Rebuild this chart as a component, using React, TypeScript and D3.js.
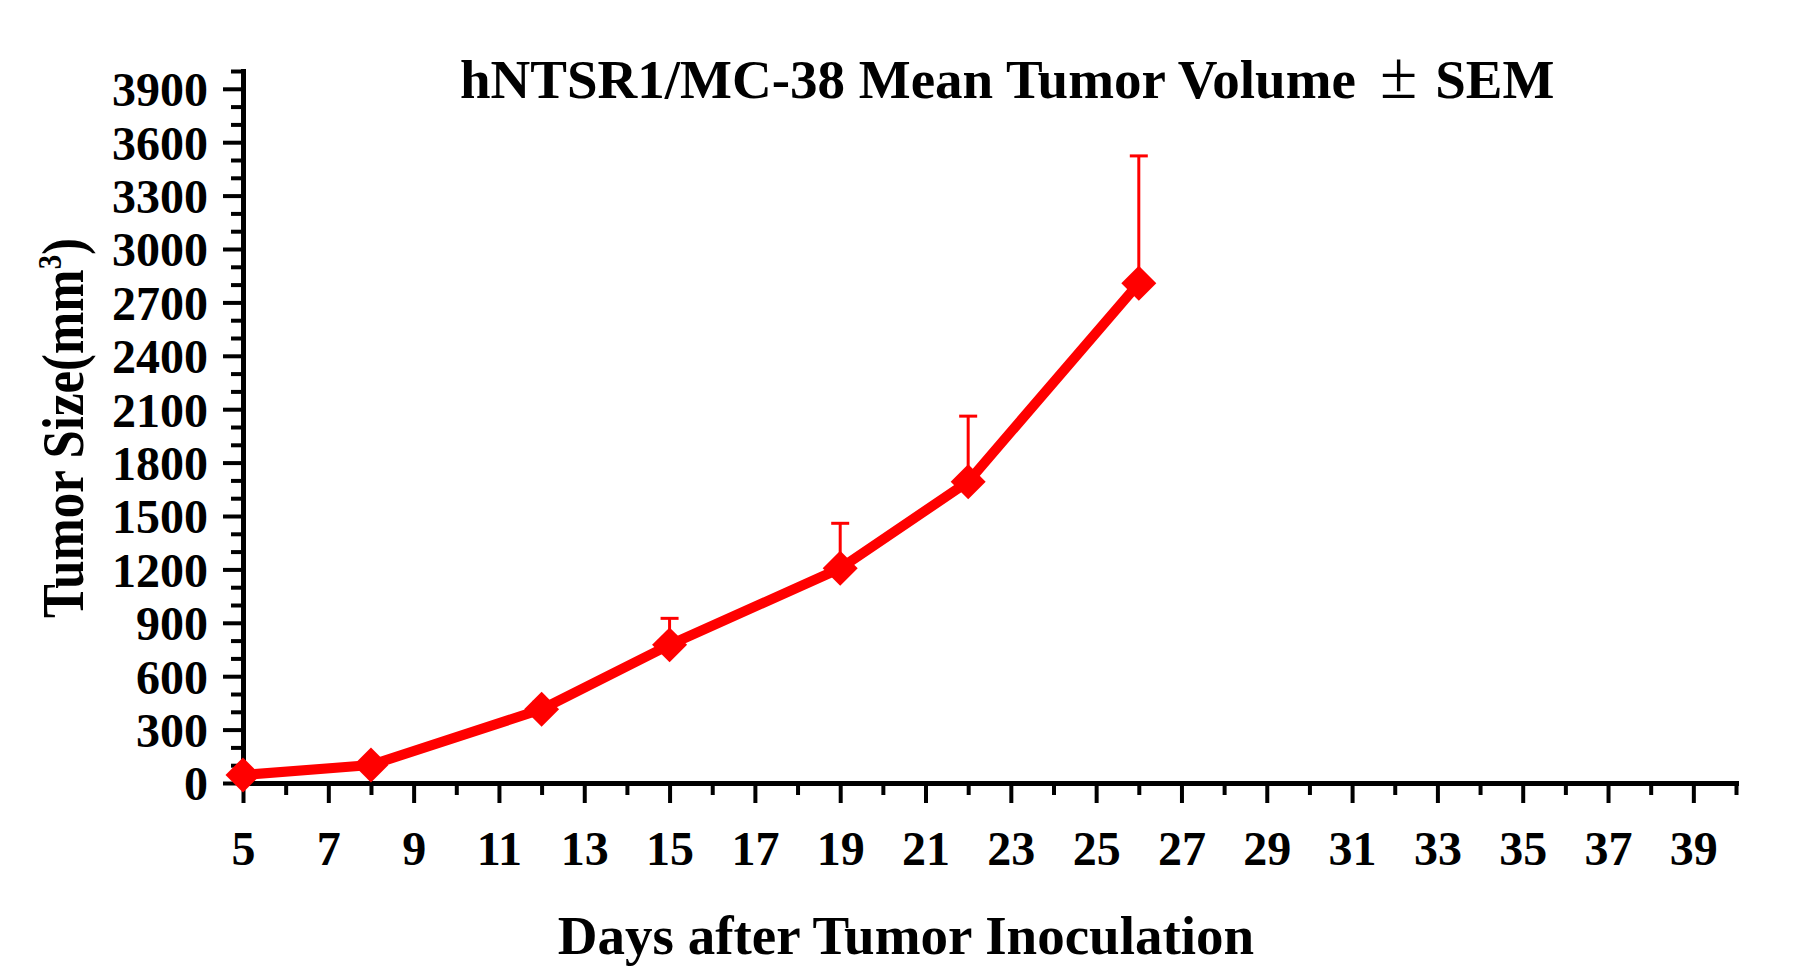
import * as d3 from "d3";
import { useEffect, useRef } from "react";

// tumor growth, hNTSR1/MC-38 (days after inoculation)
const days = [5, 8, 12, 15, 19, 22, 26];
const meanVolume = [45, 101, 414, 776, 1206, 1693, 2808];
const semVolume = [5, 15, 40, 149, 253, 368, 715];

const yMajorTicks = d3.range(0, 3901, 300);
const yMinorTicks = d3.range(0, 4001, 100).filter((v) => v % 300 !== 0);
const xMajorTicks = d3.range(5, 40, 2);
const xMinorTicks = d3.range(6, 41, 2);

const TITLE_MAIN = "hNTSR1/MC-38 Mean Tumor Volume";
const TITLE_PM = "±";
const TITLE_END = "SEM";
const X_LABEL = "Days after Tumor Inoculation";

const W = 1802;
const H = 978;
const FONT = "'Liberation Serif', 'Times New Roman', serif";
const RED = "#ff0000";

export default function App() {
  const svgRef = useRef<SVGSVGElement>(null);

  useEffect(() => {
    if (!svgRef.current) return;
    const svg = d3.select(svgRef.current);
    svg.selectAll("*").remove();

    const left = 243;
    const right = 1736;
    const top = 71;
    const bottom = 783;

    const x = d3.scaleLinear().domain([5, 40]).range([left, right]);
    const y = d3.scaleLinear().domain([0, 4000]).range([bottom, top]);

    // minor ticks first, majors + domain on top
    const yMinor = svg
      .append("g")
      .attr("transform", `translate(${left},0)`)
      .call(
        d3.axisLeft(y).tickValues(yMinorTicks).tickSize(12).tickSizeOuter(0).tickFormat(() => ""),
      );
    yMinor.select(".domain").remove();
    yMinor.selectAll("line").attr("stroke", "#000").attr("stroke-width", 4);

    const xMinor = svg
      .append("g")
      .attr("transform", `translate(0,${bottom})`)
      .call(
        d3.axisBottom(x).tickValues(xMinorTicks).tickSize(12).tickSizeOuter(0).tickFormat(() => ""),
      );
    xMinor.select(".domain").remove();
    xMinor.selectAll("line").attr("stroke", "#000").attr("stroke-width", 4);

    const yAxis = svg
      .append("g")
      .attr("transform", `translate(${left},0)`)
      .call(
        d3
          .axisLeft(y)
          .tickValues(yMajorTicks)
          .tickSize(20)
          .tickSizeOuter(0)
          .tickPadding(15)
          .tickFormat(d3.format("d")),
      );
    yAxis.select(".domain").attr("stroke-width", 5).attr("stroke-linecap", "square");
    yAxis.selectAll("line").attr("stroke", "#000").attr("stroke-width", 4);
    yAxis
      .selectAll("text")
      .attr("dy", "0.35em")
      .attr("font-family", FONT)
      .attr("font-weight", "bold")
      .attr("font-size", 48)
      .attr("fill", "#000");

    const xAxis = svg
      .append("g")
      .attr("transform", `translate(0,${bottom})`)
      .call(
        d3
          .axisBottom(x)
          .tickValues(xMajorTicks)
          .tickSize(20)
          .tickSizeOuter(0)
          .tickPadding(28)
          .tickFormat(d3.format("d")),
      );
    xAxis.select(".domain").attr("stroke-width", 5).attr("stroke-linecap", "square");
    xAxis.selectAll("line").attr("stroke", "#000").attr("stroke-width", 4);
    xAxis
      .selectAll("text")
      .attr("font-family", FONT)
      .attr("font-weight", "bold")
      .attr("font-size", 48)
      .attr("fill", "#000");

    const pts = days.map((d, i) => ({ d, m: meanVolume[i], e: semVolume[i] }));

    // upper error bars
    const err = svg.append("g").attr("stroke", RED).attr("stroke-width", 3);
    err
      .selectAll("line.bar")
      .data(pts)
      .enter()
      .append("line")
      .attr("x1", (p) => x(p.d))
      .attr("x2", (p) => x(p.d))
      .attr("y1", (p) => y(p.m))
      .attr("y2", (p) => y(p.m + p.e));
    err
      .selectAll("line.cap")
      .data(pts)
      .enter()
      .append("line")
      .attr("x1", (p) => x(p.d) - 9)
      .attr("x2", (p) => x(p.d) + 9)
      .attr("y1", (p) => y(p.m + p.e))
      .attr("y2", (p) => y(p.m + p.e));

    const line = d3
      .line<{ d: number; m: number }>()
      .x((p) => x(p.d))
      .y((p) => y(p.m));
    svg
      .append("path")
      .datum(pts)
      .attr("d", line)
      .attr("fill", "none")
      .attr("stroke", RED)
      .attr("stroke-width", 10)
      .attr("stroke-linejoin", "round");

    const diamond = d3.symbol(d3.symbolDiamond2, 780);
    svg
      .append("g")
      .selectAll("path")
      .data(pts)
      .enter()
      .append("path")
      .attr("transform", (p) => `translate(${x(p.d)},${y(p.m)})`)
      .attr("d", diamond)
      .attr("fill", RED);

    const title = svg
      .append("text")
      .attr("x", 460)
      .attr("y", 98)
      .attr("font-family", FONT)
      .attr("font-weight", "bold")
      .attr("font-size", 55);
    title.append("tspan").text(TITLE_MAIN);
    title
      .append("tspan")
      .attr("dx", 24)
      .attr("font-weight", "normal")
      .attr("font-size", 68)
      .text(TITLE_PM);
    title.append("tspan").attr("dx", 18).text(TITLE_END);

    svg
      .append("text")
      .attr("x", 906)
      .attr("y", 954)
      .attr("text-anchor", "middle")
      .attr("font-family", FONT)
      .attr("font-weight", "bold")
      .attr("font-size", 55)
      .text(X_LABEL);

    const yl = svg
      .append("text")
      .attr("transform", `translate(83,428) rotate(-90)`)
      .attr("text-anchor", "middle")
      .attr("font-family", FONT)
      .attr("font-weight", "bold")
      .attr("font-size", 60)
      .attr("textLength", 380)
      .attr("lengthAdjust", "spacingAndGlyphs");
    yl.append("tspan").text("Tumor Size(mm");
    yl.append("tspan").attr("font-size", 34).attr("dy", -22).text("3");
    yl.append("tspan").attr("dy", 22).text(")");
  }, []);

  return (
    <svg
      ref={svgRef}
      width={W}
      height={H}
      style={{ position: "absolute", left: 0, top: 0, background: "#fff" }}
    />
  );
}
